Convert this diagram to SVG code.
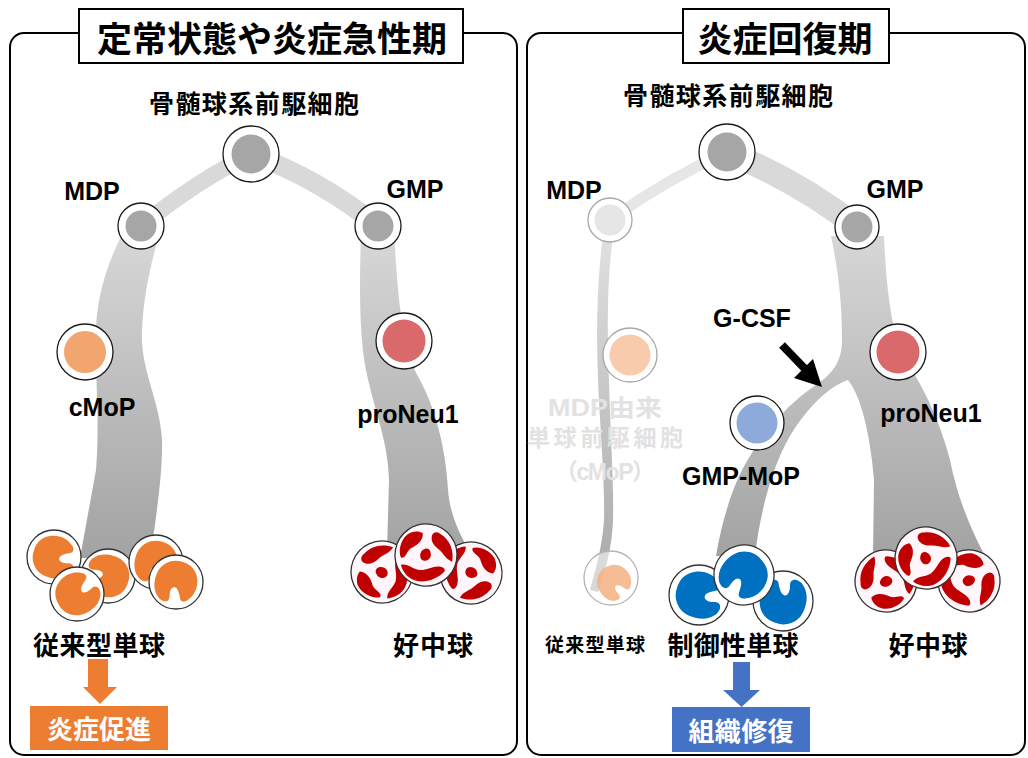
<svg xmlns="http://www.w3.org/2000/svg" width="1028" height="758" viewBox="0 0 1028 758">
  <style>
    .frame { fill: none; stroke: #000; stroke-width: 2; }
    .tbox { fill: #fff; stroke: #000; stroke-width: 2; }
    .ttl { font-family: "Noto Sans CJK JP", "Noto Sans", sans-serif; font-weight: 700; font-size: 35px; text-anchor: middle; fill: #000; }
    .jp { font-family: "Noto Sans CJK JP", "Noto Sans", sans-serif; font-weight: 700; text-anchor: middle; fill: #000; }
    .jp-m { font-size: 25px; }
    .jp-l { font-size: 26px; }
    .jp-f { font-size: 23px; }
    .jp-s { font-size: 19px; }
    .en { font-family: "Liberation Sans", Arial, sans-serif; font-weight: 700; font-size: 25px; text-anchor: middle; fill: #000; }
    .latin { font-family: "Liberation Sans", Arial, sans-serif; }
    .faded { fill: #e2e2e2; }
    .ring { fill: #fff; stroke: #1a1a1a; stroke-width: 1.3; }
    .ring-faded { fill: #fff; stroke: #a8a8a8; stroke-width: 1.3; }
    .cell { fill: #fff; stroke: #333; stroke-width: 1.3; }
    .neu { fill: #fff6fb; stroke: #333; stroke-width: 1.3; }
    .mono-o { fill: #ed7d31; }
    .mono-b { fill: #0070c0; }
    .lobe { fill: #c00000; }
    .white { fill: #fff; }
  </style>
  <defs>
    <linearGradient id="bandGrad" gradientUnits="userSpaceOnUse" x1="0" y1="230" x2="0" y2="560">
      <stop offset="0" stop-color="#d8d8d8"/>
      <stop offset="1" stop-color="#a2a2a2"/>
    </linearGradient>
    <linearGradient id="thinGrad" gradientUnits="userSpaceOnUse" x1="0" y1="236" x2="0" y2="590">
      <stop offset="0" stop-color="#e0e0e0"/>
      <stop offset="1" stop-color="#a8a8a8"/>
    </linearGradient>
    <!-- lumpy kidney-shaped monocyte nucleus, rounded notch facing left -->
    <path id="kidney" d="M -14,-17 C -6,-23 6,-20 12,-16 C 19,-11 22,-2 19,6 C 17,13 12,19 3,20 C -6,21 -13,17 -17,11 C -19,8 -19,5 -16,4 C -11,3 -6,2 -5,-1 C -4,-4 -8,-6 -13,-6 C -17,-6 -19,-8 -18,-12 C -17,-14 -16,-16 -14,-17 Z"/>
    <!-- segmented neutrophil nucleus -->
    <g id="lobes">
      <path d="M -23,-11 C -19,-21 -9,-27 2,-27 C 1,-20 -5,-17 -8,-11 C -11,-5 -16,-1 -22,-3 C -25,-5 -25,-8 -23,-11 Z"/>
      <path d="M 13,-21 C 22,-15 28,-4 27,6 C 26,14 21,20 14,23 C 11,17 16,11 16,4 C 15,-4 9,-9 9,-16 C 9,-20 11,-22 13,-21 Z"/>
      <path d="M -21,7 C -14,5 -8,10 -4,16 C 0,20 7,19 7,24 C 2,28 -10,28 -17,22 C -21,18 -23,12 -21,7 Z"/>
      <path d="M -5,-3 C 0,-7 6,-4 6,1 C 6,5 1,7 -3,5 C -6,3 -8,0 -5,-3 Z"/>
    </g>
    <g id="monoO">
      <circle class="cell" r="27"/>
      <use href="#kidney" class="mono-o" transform="scale(1.06)"/>
    </g>
    <g id="monoB">
      <circle class="cell" r="30"/>
      <use href="#kidney" class="mono-b" transform="scale(1.16)"/>
    </g>
    <g id="neutro">
      <circle class="neu" r="31"/>
      <use href="#lobes" class="lobe"/>
    </g>
  </defs>

  <rect width="1028" height="758" fill="#fff"/>

  <!-- panel frames and headings -->
  <g id="panel-left">
    <rect class="frame" x="10" y="33" width="507" height="722" rx="14"/>
    <rect class="tbox" x="79" y="9" width="384" height="54"/>
    <text class="ttl" x="272" y="52">定常状態や炎症急性期</text>
  </g>
  <g id="panel-right">
    <rect class="frame" x="527" y="33" width="498" height="722" rx="14"/>
    <rect class="tbox" x="683" y="9" width="206" height="54"/>
    <text class="ttl" x="785" y="52">炎症回復期</text>
  </g>

  <!-- differentiation paths -->
  <g id="connectors">
    <!-- left panel -->
    <path d="M 251,154 Q 195,182 141,226" fill="none" stroke="#d9d9d9" stroke-width="16"/>
    <path d="M 251,154 Q 318,178 378,226" fill="none" stroke="#d9d9d9" stroke-width="19"/>
    <path d="M 124,232 C 112,252 97,290 96,330 C 95,380 100,420 96,470 L 80,558 L 150,558 C 156,520 163,470 162,440 C 160,400 140,370 142,330 C 144,290 152,260 160,232 Z" fill="url(#bandGrad)"/>
    <path d="M 361,232 C 360,270 358,330 366,370 C 374,410 388,440 389,480 L 387,552 L 470,552 C 460,535 450,515 448,490 C 446,450 436,410 420,380 C 402,350 398,300 394,232 Z" fill="url(#bandGrad)"/>

    <!-- right panel -->
    <path d="M 727,152 Q 665,180 610,220" fill="none" stroke="#e6e6e6" stroke-width="11"/>
    <path d="M 727,152 Q 800,182 857,227" fill="none" stroke="#d9d9d9" stroke-width="24"/>
    <path d="M 603,236 C 597,280 596,330 598,380 C 600,430 605,480 604,520 C 602,550 594,575 590,590 L 598,592 C 604,575 612,550 613,520 C 614,480 610,430 609,380 C 607,330 607,280 613,236 Z" fill="url(#thinGrad)"/>
    <path d="M 831,236 C 838,270 842,300 842,340 C 842,362 832,374 816,385 C 790,402 762,432 742,470 C 732,490 722,520 716,556 L 755,556 C 759,520 770,470 790,436 C 808,406 830,386 848,380 C 860,395 870,430 874,480 L 873,556 L 985,556 C 966,520 956,490 950,460 C 940,420 920,380 905,360 C 890,330 886,280 884,236 Z" fill="url(#bandGrad)"/>

    <!-- G-CSF stimulus arrow -->
    <line x1="782" y1="345" x2="808" y2="372" stroke="#000" stroke-width="8"/>
    <polygon points="822,387 794,378 813,359" fill="#000"/>

    <!-- outcome arrows -->
    <rect x="88" y="659" width="20" height="29" fill="#ed7d31"/>
    <polygon points="83,687 117,687 100,704" fill="#ed7d31"/>
    <rect x="733" y="662" width="17" height="29" fill="#4472c4"/>
    <polygon points="723,690 760,690 741.5,707" fill="#4472c4"/>
  </g>

  <!-- left panel nodes -->
  <g id="node-progenitor-l">
    <circle class="ring" cx="251" cy="154" r="28"/>
    <circle cx="251" cy="154" r="19.5" fill="#a6a6a6"/>
    <text class="jp jp-m" x="254" y="113" textLength="210" lengthAdjust="spacing">骨髄球系前駆細胞</text>
  </g>
  <g id="node-mdp-l">
    <circle class="ring" cx="141" cy="226" r="23"/>
    <circle cx="141" cy="226" r="15.5" fill="#a6a6a6"/>
    <text class="en" x="92" y="200">MDP</text>
  </g>
  <g id="node-gmp-l">
    <circle class="ring" cx="378" cy="226" r="23"/>
    <circle cx="378" cy="226" r="15.5" fill="#a6a6a6"/>
    <text class="en" x="415" y="198">GMP</text>
  </g>
  <g id="node-cmop-l">
    <circle class="ring" cx="85" cy="352" r="28"/>
    <circle cx="85" cy="352" r="21" fill="#f1a56f"/>
    <text class="en" x="102" y="416">cMoP</text>
  </g>
  <g id="node-proneu1-l">
    <circle class="ring" cx="404" cy="341" r="28"/>
    <circle cx="404" cy="341" r="21.5" fill="#d9696a"/>
    <text class="en" x="408" y="423">proNeu1</text>
  </g>
  <g id="node-classical-mono-l">
    <use href="#monoO" transform="translate(54,557) rotate(180)"/>
    <use href="#monoO" transform="translate(108,576)"/>
    <use href="#monoO" transform="translate(77,594) rotate(135)"/>
    <use href="#monoO" transform="translate(156,562) rotate(-90)"/>
    <use href="#monoO" transform="translate(176,582) rotate(-90)"/>
    <text class="jp jp-l" x="99" y="655" textLength="132" lengthAdjust="spacing">従来型単球</text>
  </g>
  <g id="node-neutrophil-l">
    <use href="#neutro" transform="translate(382,572) rotate(20)"/>
    <use href="#neutro" transform="translate(471,573) rotate(200)"/>
    <use href="#neutro" transform="translate(426,555) rotate(100)"/>
    <text class="jp jp-l" x="433" y="655" textLength="80" lengthAdjust="spacing">好中球</text>
  </g>
  <g id="node-inflammation">
    <rect x="30" y="706" width="138" height="44" fill="#ed7d31"/>
    <text class="jp jp-l white" x="99" y="739" textLength="104" lengthAdjust="spacing">炎症促進</text>
  </g>

  <!-- right panel nodes -->
  <g id="node-progenitor-r">
    <circle class="ring" cx="727" cy="152" r="28"/>
    <circle cx="727" cy="152" r="19.5" fill="#a6a6a6"/>
    <text class="jp jp-m" x="728" y="105" textLength="210" lengthAdjust="spacing">骨髄球系前駆細胞</text>
  </g>
  <g id="node-mdp-r">
    <circle class="ring-faded" cx="610" cy="220" r="22"/>
    <circle cx="610" cy="220" r="15.5" fill="#e6e6e6"/>
    <text class="en" x="574" y="199">MDP</text>
  </g>
  <g id="node-gmp-r">
    <circle class="ring" cx="857" cy="227" r="22"/>
    <circle cx="857" cy="227" r="15.5" fill="#a6a6a6"/>
    <text class="en" x="895" y="198">GMP</text>
  </g>
  <g id="node-cmop-r">
    <circle class="ring-faded" cx="630" cy="355" r="27"/>
    <circle cx="630" cy="355" r="20.5" fill="#f8cbad"/>
    <text class="jp jp-f faded" x="605" y="416" textLength="114" lengthAdjust="spacingAndGlyphs"><tspan class="latin">MDP</tspan>由来</text>
    <text class="jp jp-f faded" x="605" y="446" textLength="156" lengthAdjust="spacing">単球前駆細胞</text>
    <text class="jp jp-f faded" x="605" y="480" textLength="100" lengthAdjust="spacing">（<tspan class="latin">cMoP</tspan>）</text>
  </g>
  <g id="node-gmp-mop">
    <circle class="ring" cx="757" cy="423" r="27"/>
    <circle cx="757" cy="423" r="20.5" fill="#8eaadb"/>
    <text class="en" x="741" y="485">GMP-MoP</text>
  </g>
  <g id="node-gcsf">
    <text class="en" x="752" y="327">G-CSF</text>
  </g>
  <g id="node-proneu1-r">
    <circle class="ring" cx="898" cy="352" r="28"/>
    <circle cx="898" cy="352" r="21.5" fill="#d9696a"/>
    <text class="en" x="931" y="422">proNeu1</text>
  </g>
  <g id="node-classical-mono-r">
    <circle cx="611" cy="578" r="27" fill="#fff" fill-opacity="0.55" stroke="#b4b4b4" stroke-width="1.3"/>
    <use href="#kidney" fill="#f4b183" fill-opacity="0.85" transform="translate(614,582) rotate(-135) scale(0.85)"/>
    <text class="jp jp-s" x="595" y="652" textLength="100" lengthAdjust="spacing">従来型単球</text>
  </g>
  <g id="node-regulatory-mono">
    <use href="#monoB" transform="translate(699,595) rotate(180)"/>
    <use href="#monoB" transform="translate(783,601) rotate(90)"/>
    <use href="#monoB" transform="translate(744,575) rotate(-60)"/>
    <text class="jp jp-l" x="733" y="655" textLength="131" lengthAdjust="spacing">制御性単球</text>
  </g>
  <g id="node-neutrophil-r">
    <use href="#neutro" transform="translate(886,581) rotate(-30)"/>
    <use href="#neutro" transform="translate(969,581) rotate(150)"/>
    <use href="#neutro" transform="translate(926,558) rotate(60)"/>
    <text class="jp jp-l" x="928" y="655" textLength="79" lengthAdjust="spacing">好中球</text>
  </g>
  <g id="node-repair">
    <rect x="672" y="707" width="138" height="45" fill="#4472c4"/>
    <text class="jp jp-l white" x="741" y="741" textLength="105" lengthAdjust="spacing">組織修復</text>
  </g>
</svg>
